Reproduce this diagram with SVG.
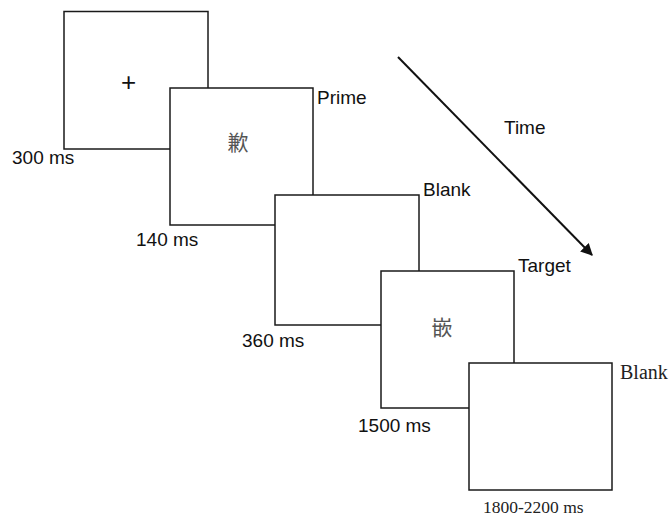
<svg xmlns="http://www.w3.org/2000/svg" width="670" height="517" viewBox="0 0 670 517">
<style>
.box{fill:#fff;stroke:#1a1a1a;stroke-width:1.5}
.lbl{font-family:"Liberation Sans",Arial,sans-serif;font-size:19px;fill:#111}
.plus{font-family:"Liberation Sans",Arial,sans-serif;font-size:26px;fill:#111;text-anchor:middle}
.ser{font-family:"Liberation Serif","Times New Roman",serif;fill:#222}
.cjk{font-family:"Noto Sans CJK SC","Noto Sans CJK TC",sans-serif;font-size:21px;fill:#555;text-anchor:middle}
</style>
<defs>
<marker id="ah" viewBox="0 0 10 10" refX="9" refY="5" markerWidth="6" markerHeight="6" markerUnits="strokeWidth" orient="auto">
<path d="M0,0 L10,5 L0,10 z" fill="#111"/>
</marker>
</defs>
<rect width="670" height="517" fill="#fff"/>
<g id="fixation">
<rect class="box" x="64" y="11.5" width="144" height="137.5"/>
<text class="plus" x="128.5" y="91">+</text>
<text class="lbl" x="12" y="164">300 ms</text>
</g>
<g id="prime">
<rect class="box" x="170" y="88" width="143" height="137"/>
<text class="cjk" x="238" y="150">歉</text>
<text class="lbl" x="317" y="104">Prime</text>
<text class="lbl" x="136" y="246">140 ms</text>
</g>
<g id="blank1">
<rect class="box" x="275" y="195" width="144" height="130"/>
<text class="lbl" x="423" y="196">Blank</text>
<text class="lbl" x="242" y="347">360 ms</text>
</g>
<g id="target">
<rect class="box" x="381" y="271" width="133" height="137"/>
<text class="cjk" x="442" y="335">嵌</text>
<text class="lbl" x="518" y="272">Target</text>
<text class="lbl" x="358" y="432">1500 ms</text>
</g>
<g id="blank2">
<rect class="box" x="469" y="363" width="143" height="127"/>
<text class="ser" x="620" y="379" font-size="20">Blank</text>
<text class="ser" x="483" y="513" font-size="17.5">1800-2200 ms</text>
</g>
<g id="connectors">
<line x1="398" y1="57" x2="592" y2="255" stroke="#111" stroke-width="2" marker-end="url(#ah)"/>
<text class="lbl" x="504" y="134">Time</text>
</g>
</svg>
